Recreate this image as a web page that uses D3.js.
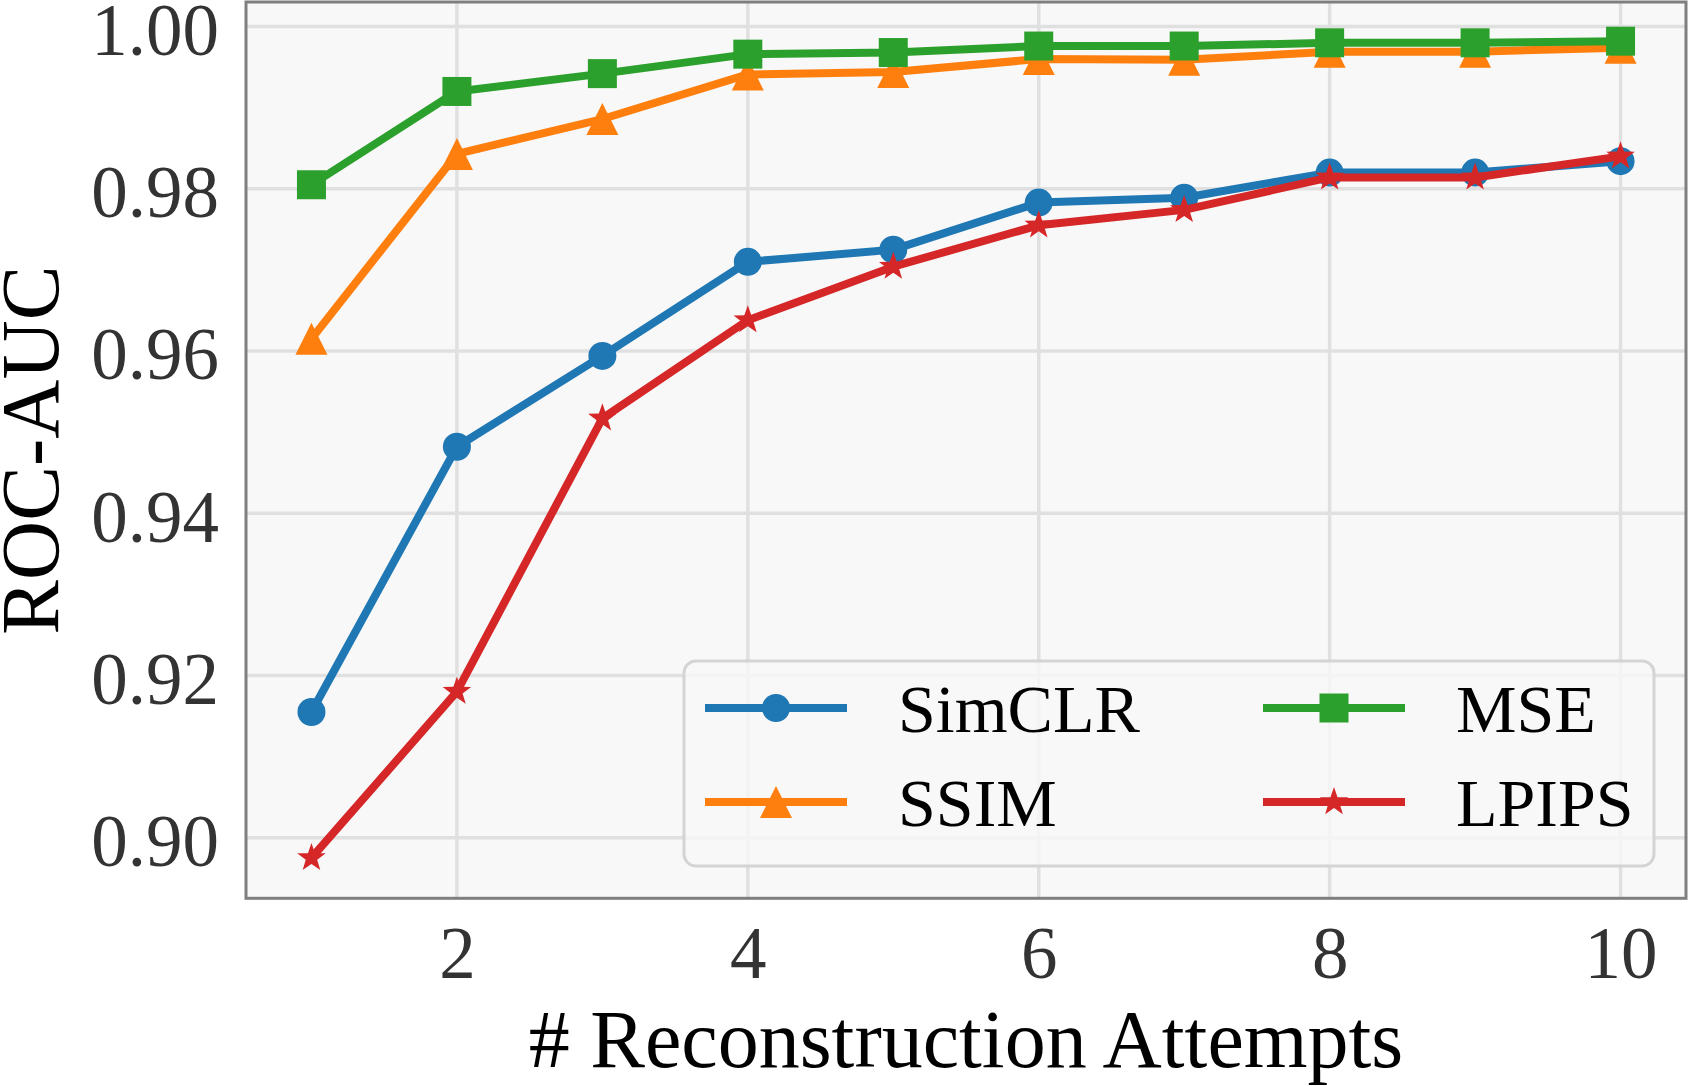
<!DOCTYPE html>
<html>
<head>
<meta charset="utf-8">
<script src="https://cdn.jsdelivr.net/npm/d3@7"></script>
<style>
  html, body { margin: 0; padding: 0; background: #fff; }
  svg { display: block; }
</style>
</head>
<body>
<div class="canvas"></div>
<script>
// data
var attempts = [1, 2, 3, 4, 5, 6, 7, 8, 9, 10];
var simclr = [0.9155, 0.9482, 0.9594, 0.9710, 0.9725, 0.9783, 0.9789, 0.9820, 0.9820, 0.9834];
var ssim   = [0.9615, 0.9843, 0.9886, 0.9941, 0.9944, 0.9960, 0.9959, 0.9969, 0.9969, 0.9974];
var mse    = [0.9805, 0.9920, 0.9942, 0.9966, 0.9968, 0.9976, 0.9976, 0.9980, 0.9980, 0.9982];
var lpips  = [0.8975, 0.9180, 0.9517, 0.9638, 0.9704, 0.9755, 0.9774, 0.9814, 0.9814, 0.9840];
var seriesNames = ['SimCLR', 'SSIM', 'MSE', 'LPIPS'];
var xTicks = [2, 4, 6, 8, 10];
var yTicks = [0.90, 0.92, 0.94, 0.96, 0.98, 1.00];

var series = [
    { name: 'SimCLR', values: simclr, color: '#1f77b4', marker: 'circle' },
    { name: 'SSIM',   values: ssim,   color: '#ff7f0e', marker: 'triangle' },
    { name: 'MSE',    values: mse,    color: '#2ca02c', marker: 'square' },
    { name: 'LPIPS',  values: lpips,  color: '#d62728', marker: 'star' }
];

var W = 1688, H = 1086,
    plot = { left: 246, right: 1686, top: 2, bottom: 898.3 },
    font = '"Liberation Serif", "Times New Roman", Times, serif';

var svg = d3.select('.canvas').append('svg')
    .attr('width', W)
    .attr('height', H);

var x = d3.scaleLinear().domain([0.55, 10.45]).range([plot.left, plot.right]),
    y = d3.scaleLinear().domain([0.89253, 1.00303]).range([plot.bottom, plot.top]);

// background
svg.append('rect')
    .attr('x', plot.left).attr('y', plot.top)
    .attr('width', plot.right - plot.left)
    .attr('height', plot.bottom - plot.top)
    .attr('fill', '#f8f8f8');

// grid
var grid = svg.append('g').attr('stroke', '#e0e0e0').attr('stroke-width', 3.5);
grid.selectAll('.gx').data(xTicks).enter().append('line')
    .attr('x1', function (d) { return x(d); })
    .attr('x2', function (d) { return x(d); })
    .attr('y1', plot.top).attr('y2', plot.bottom);
grid.selectAll('.gy').data(yTicks).enter().append('line')
    .attr('y1', function (d) { return y(d); })
    .attr('y2', function (d) { return y(d); })
    .attr('x1', plot.left).attr('x2', plot.right);

// axes, labels only
var xAxis = svg.append('g')
    .attr('transform', 'translate(0,' + plot.bottom + ')')
    .call(d3.axisBottom(x).tickValues(xTicks).tickSize(0).tickPadding(0).tickFormat(d3.format('d')));
xAxis.select('.domain').remove();
xAxis.selectAll('text')
    .attr('y', 80).attr('dy', 0)
    .attr('font-family', font).attr('font-size', 73).attr('fill', '#333');

var yAxis = svg.append('g')
    .attr('transform', 'translate(' + plot.left + ',0)')
    .call(d3.axisLeft(y).tickValues(yTicks).tickSize(0).tickPadding(27).tickFormat(d3.format('.2f')));
yAxis.select('.domain').remove();
yAxis.selectAll('text')
    .attr('dy', '0.38em')
    .attr('font-family', font).attr('font-size', 73).attr('fill', '#333');

svg.append('text')
    .attr('x', (plot.left + plot.right) / 2).attr('y', 1067)
    .attr('text-anchor', 'middle')
    .attr('font-family', font).attr('font-size', 82).attr('fill', '#000')
    .text('# Reconstruction Attempts');

svg.append('text')
    .attr('transform', 'translate(58,' + ((plot.top + plot.bottom) / 2) + ') rotate(-90)')
    .attr('text-anchor', 'middle')
    .attr('font-family', font).attr('font-size', 82).attr('fill', '#000')
    .text('ROC-AUC');

// marker shapes
function markerPath(type) {
    if (type === 'circle') return d3.symbol().type(d3.symbolCircle).size(Math.PI * 14 * 14)();
    if (type === 'square') return 'M-14.5,-14.5H14.5V14.5H-14.5Z';
    if (type === 'triangle') return 'M0,-16L16,16L-16,16Z';
    // five point star
    var p = [], i, a, r;
    for (i = 0; i < 10; i++) {
        a = -Math.PI / 2 + i * Math.PI / 5;
        r = i % 2 === 0 ? 15 : 15 * 0.4;
        p.push([r * Math.cos(a), r * Math.sin(a)]);
    }
    return 'M' + p.join('L') + 'Z';
}

var line = d3.line()
    .x(function (d, i) { return x(attempts[i]); })
    .y(function (d) { return y(d); });

var lines = svg.append('g');
series.forEach(function (s) {
    var g = lines.append('g');
    g.append('path')
        .attr('d', line(s.values))
        .attr('fill', 'none')
        .attr('stroke', s.color)
        .attr('stroke-width', 8)
        .attr('stroke-linejoin', 'round');
    g.selectAll('path.m').data(s.values).enter().append('path')
        .attr('class', 'm')
        .attr('d', markerPath(s.marker))
        .attr('transform', function (d, i) { return 'translate(' + x(attempts[i]) + ',' + y(d) + ')'; })
        .attr('fill', s.color);
});

// frame
svg.append('rect')
    .attr('x', plot.left).attr('y', plot.top)
    .attr('width', plot.right - plot.left)
    .attr('height', plot.bottom - plot.top)
    .attr('fill', 'none')
    .attr('stroke', '#7f7f7f')
    .attr('stroke-width', 3);

// legend, two columns
var legend = svg.append('g');
legend.append('rect')
    .attr('x', 684).attr('y', 661)
    .attr('width', 970).attr('height', 205)
    .attr('rx', 12)
    .attr('fill', 'rgba(248,248,248,0.8)')
    .attr('stroke', '#d4d4d4')
    .attr('stroke-width', 3);

var cols = [705, 1263], rows = [708, 802];
series.forEach(function (s, i) {
    var cx = cols[Math.floor(i / 2)], cy = rows[i % 2];
    var g = legend.append('g').attr('transform', 'translate(' + cx + ',' + cy + ')');
    g.append('line')
        .attr('x1', 0).attr('x2', 142)
        .attr('stroke', s.color).attr('stroke-width', 8);
    g.append('path')
        .attr('d', markerPath(s.marker))
        .attr('transform', 'translate(71,0)')
        .attr('fill', s.color);
    g.append('text')
        .attr('x', 193).attr('y', 24)
        .attr('font-family', font).attr('font-size', 68).attr('fill', '#000')
        .text(seriesNames[i]);
});
</script>
</body>
</html>
